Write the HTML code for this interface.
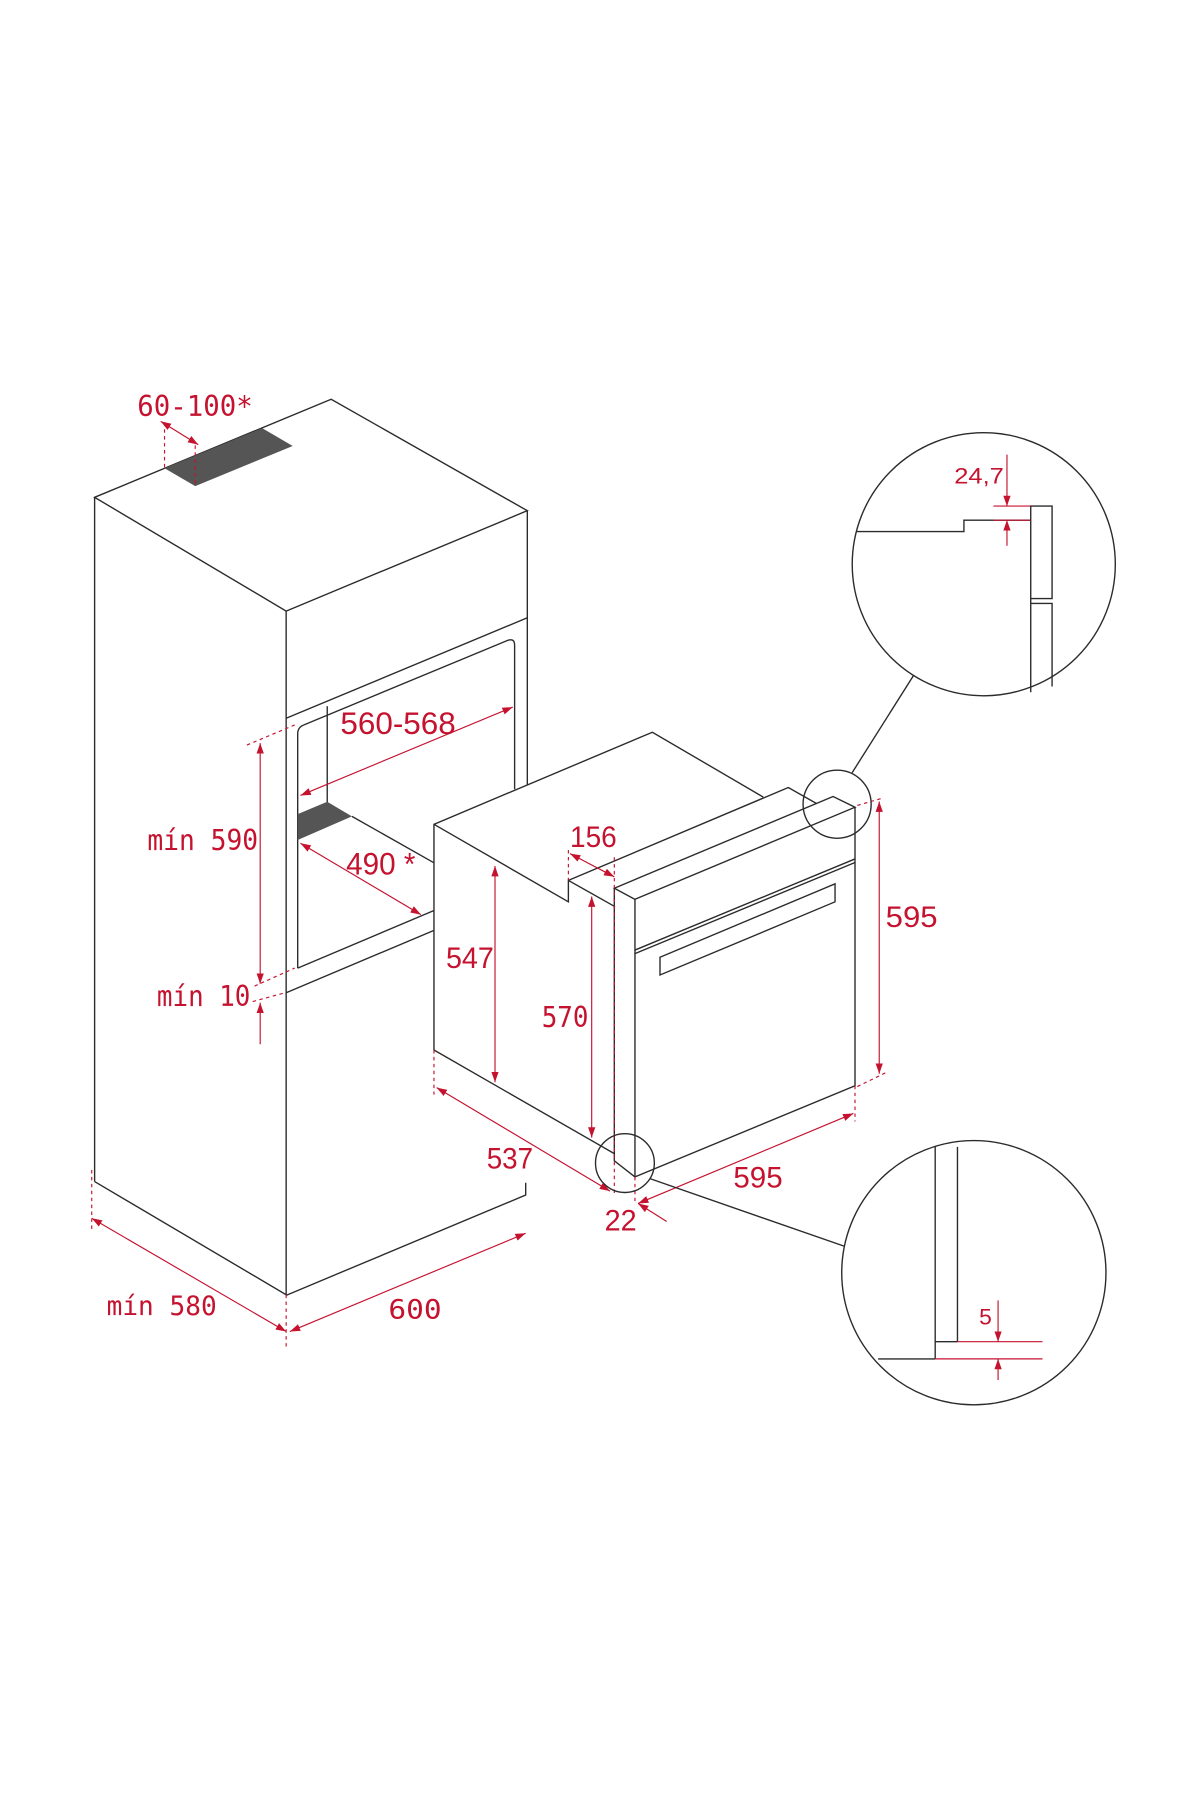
<!DOCTYPE html>
<html><head><meta charset="utf-8"><style>
html,body{margin:0;padding:0;background:#fff;}
svg{display:block;}
.k{stroke:#2b2b2b;stroke-width:1.2;fill:none;stroke-linejoin:miter}
.r{stroke:#c4122f;stroke-width:1;fill:none}
.rd{stroke:#c4122f;stroke-width:1;fill:none;stroke-dasharray:3 3}
.a{stroke:#c4122f;stroke-width:1;fill:none;marker-start:url(#ah);marker-end:url(#ah)}
.a1{stroke:#c4122f;stroke-width:1;fill:none;marker-end:url(#ah)}
.m{font-family:"DejaVu Sans Mono","Liberation Mono",monospace;fill:#c4122f}
.s{font-family:"Liberation Sans",Arial,sans-serif;fill:#c4122f}
</style></head><body>
<svg width="1200" height="1800" viewBox="0 0 1040 1560" xmlns="http://www.w3.org/2000/svg">
<defs>
<marker id="ah" viewBox="0 0 10 10" refX="10" refY="5" markerWidth="9" markerHeight="9" markerUnits="userSpaceOnUse" orient="auto-start-reverse">
<path d="M0,1.5 L10,5 L0,8.5 z" fill="#c4122f"/>
</marker>
</defs>
<rect width="1040" height="1560" fill="#fff"/>

<!-- Cabinet -->
<polygon class="k" points="82,431 287,346 457,442.6 248,529.6"/>
<polygon points="142.6,405.8 227.2,371 253.7,386.5 169.2,421.3" fill="#555"/>
<line class="k" x1="82" y1="431" x2="82" y2="1024"/>
<line class="k" x1="248" y1="529.6" x2="248" y2="1122.4"/>
<line class="k" x1="457" y1="442.6" x2="457" y2="683"/>
<polyline class="k" points="82,1024 248.5,1122.4 455.6,1035.7 455.6,1025"/>
<!-- niche -->
<line class="k" x1="248" y1="622.5" x2="457" y2="535.4"/>
<path class="k" d="M258,839 L258,636 Q258,630 264,628 L440,555 Q446,553 446,559 L446,684"/>
<line class="k" x1="283.6" y1="612" x2="283.6" y2="697"/>
<polygon points="258,705.6 283.6,694.8 305,707.5 258,728" fill="#555"/>
<line class="k" x1="305" y1="707.5" x2="376.5" y2="748"/>
<line class="k" x1="258" y1="839" x2="376.4" y2="789"/>
<line class="k" x1="248" y1="860.4" x2="376.4" y2="806.2"/>

<!-- cabinet dims -->
<line class="a" x1="139.3" y1="365.2" x2="171.8" y2="385.3"/>
<line class="rd" x1="142.6" y1="366" x2="142.6" y2="406"/>
<line class="rd" x1="169.2" y1="386" x2="169.2" y2="421"/>
<text class="m" x="119" y="360.5" font-size="25" textLength="100" lengthAdjust="spacingAndGlyphs">60-100*</text>

<line class="a" x1="260.4" y1="689.4" x2="444.4" y2="612.8"/>
<text class="s" x="295" y="636" font-size="27" textLength="100" lengthAdjust="spacingAndGlyphs">560-568</text>
<line class="a" x1="260.4" y1="730.8" x2="364.8" y2="792.7"/>
<text class="s" x="300" y="758" font-size="27" textLength="60" lengthAdjust="spacingAndGlyphs">490 *</text>

<line class="a" x1="225.5" y1="644" x2="225.5" y2="852.6"/>
<line class="rd" x1="214" y1="645.7" x2="255.4" y2="628.3"/>
<line class="rd" x1="220.6" y1="854.6" x2="255.4" y2="839"/>
<line class="rd" x1="219" y1="868" x2="247" y2="860.4"/>
<line class="a1" x1="225.5" y1="905" x2="225.5" y2="869"/>
<text class="m" x="127.7" y="736.6" font-size="25" textLength="96" lengthAdjust="spacingAndGlyphs">mín 590</text>
<text class="m" x="136" y="872" font-size="25" textLength="81" lengthAdjust="spacingAndGlyphs">mín 10</text>

<line class="rd" x1="79.5" y1="1014" x2="79.5" y2="1066"/>
<line class="rd" x1="248" y1="1122" x2="248" y2="1167"/>
<line class="a" x1="79.5" y1="1055.8" x2="248" y2="1154"/>
<line class="a" x1="251.2" y1="1154" x2="455.6" y2="1068.8"/>
<text class="m" x="92.4" y="1139.7" font-size="23" textLength="95.4" lengthAdjust="spacingAndGlyphs">mín 580</text>
<text class="m" x="336.6" y="1142.6" font-size="23" textLength="46.2" lengthAdjust="spacingAndGlyphs">600</text>

<!-- Oven -->
<polygon fill="#fff" stroke="none" points="376.1,714.4 565.4,634.6 661.6,690.9 722,690.3 741,699.6 741,941 550.3,1020 532.4,1006 532.4,999.8 376.1,910"/>
<polyline class="k" points="376.1,910 376.1,714.4 565.4,634.6 661.6,690.9"/>
<polyline class="k" points="376.1,714.4 492.6,781.6 492.6,763 533,785.8"/>
<polyline class="k" points="492.6,763 683.2,682.5 707.8,696.5"/>
<polygon class="k" points="532.4,769.8 722,690.3 741,699.6 550.3,779.4"/>
<line class="k" x1="376.1" y1="910" x2="532.4" y2="999.8"/>
<polyline class="k" points="532.4,769.8 532.4,1006 550.3,1020 741,941 741,699.6"/>
<line class="k" x1="550.3" y1="779.4" x2="550.3" y2="1020"/>
<line class="k" x1="550.3" y1="823.4" x2="741" y2="744.4"/>
<line class="k" x1="550.3" y1="826.5" x2="741" y2="747.5"/>
<polygon class="k" points="572,829.6 723.7,766 723.7,781.6 572,845"/>

<!-- oven dims -->
<line class="a" x1="429" y1="750.5" x2="429" y2="937.9"/>
<text class="s" x="386.5" y="839" font-size="26" textLength="41.5" lengthAdjust="spacingAndGlyphs">547</text>
<line class="a" x1="512.8" y1="777" x2="512.8" y2="985.9"/>
<text class="m" x="469.5" y="890" font-size="25" textLength="40.5" lengthAdjust="spacingAndGlyphs">570</text>
<line class="rd" x1="492.6" y1="736.7" x2="492.6" y2="763"/>
<line class="rd" x1="532.4" y1="742.9" x2="532.4" y2="1034"/>
<line class="a" x1="494" y1="739.8" x2="532.4" y2="759.9"/>
<text class="s" x="494" y="734" font-size="26" textLength="40.5" lengthAdjust="spacingAndGlyphs">156</text>
<line class="rd" x1="376.1" y1="910" x2="376.1" y2="948.7"/>
<line class="a" x1="378.4" y1="942.6" x2="528.7" y2="1032.3"/>
<text class="s" x="421.8" y="1012.8" font-size="26" textLength="40.2" lengthAdjust="spacingAndGlyphs">537</text>
<line class="rd" x1="741" y1="941" x2="741" y2="972"/>
<line class="rd" x1="550.3" y1="1020" x2="550.3" y2="1043"/>
<line class="a" x1="553" y1="1043" x2="739.6" y2="965"/>
<text class="s" x="635.6" y="1029" font-size="26" textLength="42.7" lengthAdjust="spacingAndGlyphs">595</text>
<line class="a1" x1="577.8" y1="1058.6" x2="553" y2="1043"/>
<text class="s" x="524" y="1066.4" font-size="26" textLength="27.8" lengthAdjust="spacingAndGlyphs">22</text>
<line class="rd" x1="743" y1="698" x2="764" y2="692"/>
<line class="rd" x1="743" y1="941.7" x2="769" y2="929"/>
<line class="a" x1="762" y1="694.6" x2="762" y2="930.6"/>
<text class="s" x="767.6" y="803.5" font-size="26" textLength="45" lengthAdjust="spacingAndGlyphs">595</text>

<!-- small circles & connectors -->
<circle class="k" cx="725.5" cy="697" r="29.5"/>
<line class="k" x1="738.5" y1="669.7" x2="792" y2="585"/>
<circle class="k" cx="541.6" cy="1008" r="25.5"/>
<line class="k" x1="563.3" y1="1021.5" x2="731.5" y2="1080"/>

<!-- top detail -->
<circle class="k" cx="852.6" cy="489" r="114"/>
<polyline class="k" points="742,460.7 835.4,460.7 835.4,450.8 893.3,450.8"/>
<polyline class="k" points="893.3,600 893.3,438.6 911.8,438.6 911.8,518.8 893.3,518.8"/>
<polyline class="k" points="893.3,523 911.8,523 911.8,595"/>
<line class="r" x1="861" y1="438.6" x2="893" y2="438.6"/>
<line class="r" x1="861" y1="450.8" x2="893" y2="450.8"/>
<line class="a1" x1="872.7" y1="394" x2="872.7" y2="438.6"/>
<line class="a1" x1="872.7" y1="473" x2="872.7" y2="450.8"/>
<text class="s" x="827" y="419" font-size="19" textLength="43" lengthAdjust="spacingAndGlyphs">24,7</text>

<!-- bottom detail -->
<circle class="k" cx="844" cy="1103" r="114.5"/>
<line class="k" x1="810.5" y1="994" x2="810.5" y2="1177.7"/>
<line class="k" x1="829.8" y1="994" x2="829.8" y2="1162.8"/>
<line class="k" x1="810.5" y1="1162.8" x2="829.8" y2="1162.8"/>
<line class="k" x1="761" y1="1177.7" x2="810.5" y2="1177.7"/>
<line class="r" x1="829.8" y1="1162.8" x2="903.5" y2="1162.8"/>
<line class="r" x1="810.5" y1="1177.7" x2="903.5" y2="1177.7"/>
<line class="a1" x1="865" y1="1127" x2="865" y2="1162.8"/>
<line class="a1" x1="865" y1="1196" x2="865" y2="1177.7"/>
<text class="s" x="848.6" y="1148" font-size="19" textLength="11" lengthAdjust="spacingAndGlyphs">5</text>
</svg>
</body></html>
